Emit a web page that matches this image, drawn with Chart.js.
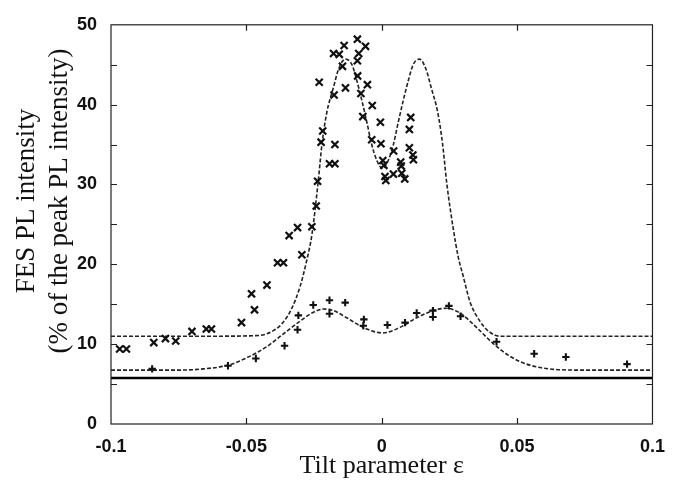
<!DOCTYPE html>
<html>
<head>
<meta charset="utf-8">
<script src="https://cdn.jsdelivr.net/npm/chart.js@4/dist/chart.umd.min.js"></script>
<style>
    html, body { margin: 0; padding: 0; background: #fff; }
    #wrap { width: 677px; height: 487px; }
</style>
</head>
<body>
<div id="wrap"><canvas id="fesChart" width="677" height="487"></canvas></div>
<script>
// Measured data (x markers)
const crossTilt = [-0.0968, -0.0943, -0.0842, -0.0799, -0.0761, -0.0701, -0.0648, -0.0629, -0.0518, -0.0470,
    -0.0481, -0.0424, -0.0385, -0.0363, -0.0342, -0.0311, -0.0295, -0.0258, -0.0242, -0.0237,
    -0.0224, -0.0218, -0.0231, -0.0193, -0.0173, -0.0173, -0.0176, -0.0178, -0.0157, -0.0145,
    -0.0139, -0.0134, -0.0090, -0.0085, -0.0090, -0.0089, -0.0060, -0.0053, -0.0077, -0.0035,
    -0.0070, -0.0005, -0.0037, -0.0003, 0.0004, 0.0008, 0.0012, 0.0015, 0.0044, 0.0043,
    0.0070, 0.0072, 0.0074, 0.0085, 0.0107, 0.0102, 0.0102, 0.0115, 0.0117];
const crossPL = [9.4, 9.4, 10.2, 10.7, 10.4, 11.6, 11.9, 11.9, 12.7, 14.3,
    16.3, 17.4, 20.2, 20.2, 23.6, 24.6, 21.2, 24.7, 27.3, 30.4,
    35.3, 36.7, 42.8, 32.6, 32.6, 35.0, 41.2, 46.4, 46.3, 44.8,
    47.4, 42.1, 48.2, 46.4, 45.5, 43.6, 47.3, 42.5, 41.4, 39.9,
    38.5, 37.8, 35.6, 35.1, 33.0, 32.4, 31.0, 30.5, 34.2, 31.3,
    32.8, 32.3, 31.4, 30.7, 38.4, 36.9, 34.6, 33.7, 33.1];

// Measured data (+ markers)
const plusTilt = [-0.0848, -0.0568, -0.0465, -0.0359, -0.0311, -0.0308, -0.0253, -0.0193, -0.0193, -0.0135,
    -0.0066, -0.0068, 0.0021, 0.0086, 0.0129, 0.0189, 0.0189, 0.0248, 0.0291, 0.0424,
    0.0563, 0.0680, 0.0906];
const plusPL = [6.9, 7.3, 8.2, 9.8, 11.8, 13.6, 14.9, 15.5, 13.8, 15.2,
    13.1, 12.3, 12.4, 12.7, 13.9, 14.2, 13.4, 14.8, 13.5, 10.3,
    8.8, 8.4, 7.5];

// Calculated curves (dashed)
const upperTilt = [-0.1, -0.06, -0.045, -0.040, -0.037, -0.0332, -0.0301, -0.0277, -0.0258, -0.0234,
    -0.0221, -0.0203, -0.0178, -0.016, -0.0135, -0.011, -0.0092, -0.0074, -0.0055, -0.0037,
    -0.0018, 0.0003, 0.0024, 0.0043, 0.0061, 0.008, 0.0098, 0.0116, 0.0139, 0.0164,
    0.0182, 0.0207, 0.0225, 0.0240, 0.0264, 0.0282, 0.0301, 0.0326, 0.0362, 0.0399,
    0.0436, 0.06, 0.1];
const upperPL = [11, 11, 11.1, 11.7, 12.5, 14.5, 17.3, 20.5, 23.7, 30.6,
    35, 39, 42.2, 44.4, 45.7, 45.0, 43, 40.6, 37.8, 35,
    33, 32.0, 33, 35, 37.8, 40.6, 43, 45.0, 45.7, 44.4,
    42.2, 39, 35, 30.2, 24.5, 21, 18.5, 15.3, 12.9, 11.5,
    11.0, 11, 11];

const lowerTilt = [-0.1, -0.075, -0.067, -0.057, -0.0498, -0.0424, -0.0363, -0.0301, -0.0252, -0.0215,
    -0.0178, -0.0129, -0.008, -0.0031, 0.0003, 0.0067, 0.0129, 0.019, 0.024, 0.0289,
    0.035, 0.0411, 0.0473, 0.0535, 0.062, 0.0743, 0.1];
const lowerPL = [6.75, 6.75, 6.87, 7.35, 8.3, 9.7, 11.3, 12.9, 14.0, 14.4,
    14.2, 13.3, 12.3, 11.6, 11.4, 12.1, 13.3, 14.2, 14.5, 13.9,
    12.1, 10.1, 8.5, 7.5, 6.9, 6.75, 6.75];

// Solid reference level
const levelTilt = [-0.1, 0.1];
const levelPL = [5.75, 5.75];

const yTicks = [0, 10, 20, 30, 40, 50];
const xTicks = [-0.1, -0.05, 0, 0.05, 0.1];
const yTitleLines = ['FES PL intensity', '(% of the peak PL intensity)'];

function toPoints(xs, ys) {
    return xs.map((x, i) => ({ x: x, y: ys[i] }));
}

// Frame with inward tick marks on all four sides, plus the rotated y title
const framePlugin = {
    id: 'frame',
    afterDraw(chart) {
        const { ctx, chartArea: a, scales } = chart;
        const len = 6;
        ctx.save();
        ctx.strokeStyle = '#222';
        ctx.lineWidth = 1.2;
        ctx.strokeRect(a.left, a.top, a.right - a.left, a.bottom - a.top);
        ctx.beginPath();
        for (let v = 5; v < 50; v += 5) {
            const y = Math.round(scales.y.getPixelForValue(v)) + 0.5;
            ctx.moveTo(a.left, y);
            ctx.lineTo(a.left + len, y);
            ctx.moveTo(a.right, y);
            ctx.lineTo(a.right - len, y);
        }
        xTicks.slice(1, -1).forEach(v => {
            const x = Math.round(scales.x.getPixelForValue(v)) + 0.5;
            ctx.moveTo(x, a.bottom);
            ctx.lineTo(x, a.bottom - len);
            ctx.moveTo(x, a.top);
            ctx.lineTo(x, a.top + len);
        });
        ctx.stroke();

        // y axis title, two lines
        ctx.fillStyle = '#111';
        ctx.font = '27px "Liberation Serif"';
        ctx.textAlign = 'center';
        ctx.textBaseline = 'middle';
        ctx.translate(0, 201);
        ctx.rotate(-Math.PI / 2);
        ctx.fillText(yTitleLines[0], 0, 27);
        ctx.fillText(yTitleLines[1], 0, 60);
        ctx.restore();
    }
};

const ctx = document.getElementById('fesChart').getContext('2d');
const fesChart = new Chart(ctx, {
    type: 'scatter',
    data: {
        datasets: [{
            label: 'x data',
            data: toPoints(crossTilt, crossPL),
            pointStyle: 'crossRot',
            pointRadius: 5,
            borderColor: '#111',
            borderWidth: 2.2,
            showLine: false
        }, {
            label: '+ data',
            data: toPoints(plusTilt, plusPL),
            pointStyle: 'cross',
            pointRadius: 3.7,
            borderColor: '#111',
            borderWidth: 2.1,
            showLine: false
        }, {
            label: 'upper fit',
            data: toPoints(upperTilt, upperPL),
            showLine: true,
            pointRadius: 0,
            borderColor: '#222',
            borderWidth: 1.6,
            borderDash: [4, 2],
            cubicInterpolationMode: 'monotone'
        }, {
            label: 'lower fit',
            data: toPoints(lowerTilt, lowerPL),
            showLine: true,
            pointRadius: 0,
            borderColor: '#222',
            borderWidth: 1.6,
            borderDash: [4, 2],
            cubicInterpolationMode: 'monotone'
        }, {
            label: 'level',
            data: toPoints(levelTilt, levelPL),
            showLine: true,
            pointRadius: 0,
            borderColor: '#000',
            borderWidth: 2.5
        }]
    },
    options: {
        responsive: false,
        animation: false,
        layout: {
            padding: { top: 9, right: 24, left: 0, bottom: 0 }
        },
        plugins: {
            legend: { display: false },
            tooltip: { enabled: false }
        },
        scales: {
            x: {
                type: 'linear',
                min: -0.1,
                max: 0.1,
                afterFit: (scale) => { scale.height = 63; },
                afterBuildTicks: (scale) => { scale.ticks = xTicks.map(v => ({ value: v })); },
                grid: { display: false, drawTicks: false },
                border: { display: false },
                ticks: {
                    padding: 12,
                    color: '#111',
                    font: { family: 'Liberation Sans', size: 18, weight: 'bold' },
                    maxRotation: 0,
                    callback: (v) => String(parseFloat(Number(v).toFixed(2)))
                },
                title: {
                    display: true,
                    text: 'Tilt parameter ε',
                    color: '#111',
                    font: { family: 'Liberation Serif', size: 26 },
                    padding: { top: 0, bottom: 5 }
                }
            },
            y: {
                min: 0,
                max: 50,
                afterFit: (scale) => { scale.width = 111; },
                afterBuildTicks: (scale) => { scale.ticks = yTicks.map(v => ({ value: v })); },
                grid: { display: false, drawTicks: false },
                border: { display: false },
                ticks: {
                    padding: 14,
                    color: '#111',
                    font: { family: 'Liberation Sans', size: 18, weight: 'bold' }
                },
                title: { display: false }
            }
        }
    },
    plugins: [framePlugin]
});
</script>
</body>
</html>
